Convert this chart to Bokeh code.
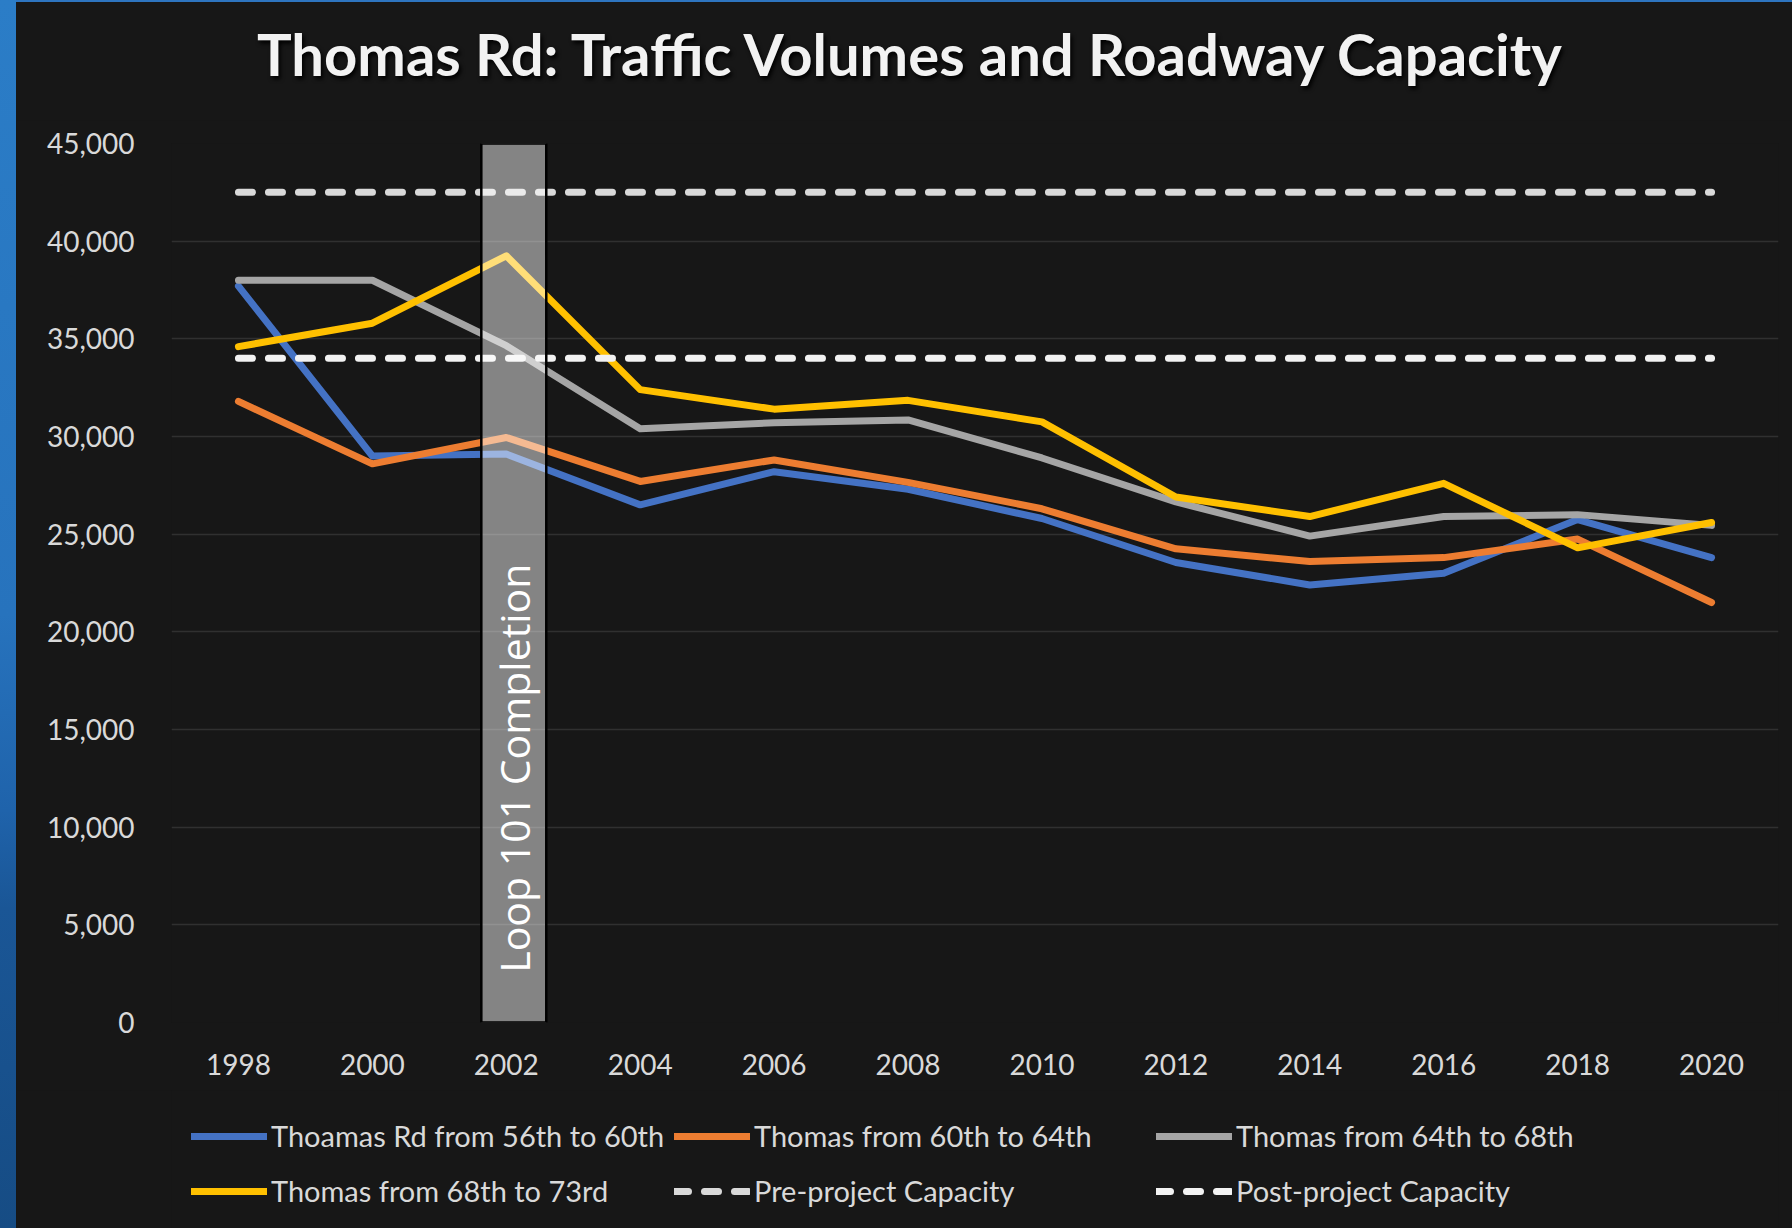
import numpy as np
from bokeh.plotting import figure
from bokeh.models import (ColumnDataSource, Legend, LegendItem, Range1d, FactorRange,
                          NumeralTickFormatter, FixedTicker, Div)
from bokeh.layouts import row, column
from bokeh.transform import dodge
from bokeh.core.properties import value
from bokeh.embed import file_html
from bokeh.resources import INLINE

# ---------------- data ----------------
years = ["1998", "2000", "2002", "2004", "2006", "2008",
         "2010", "2012", "2014", "2016", "2018", "2020"]
thomas_56_60 = [37700, 29000, 29100, 26500, 28200, 27300, 25800, 23550, 22400, 23000, 25750, 23800]
thomas_60_64 = [31800, 28600, 29950, 27700, 28800, 27650, 26300, 24250, 23600, 23800, 24750, 21500]
thomas_64_68 = [38000, 38000, 34650, 30400, 30700, 30850, 28900, 26650, 24900, 25900, 26000, 25450]
thomas_68_73 = [34600, 35800, 39250, 32400, 31400, 31850, 30750, 26900, 25900, 27600, 24300, 25600]
pre_capacity = [42500, 42500, 42500, 42500, 42500, 42500, 42500, 42500, 42500, 42500, 42500, 42500]
post_capacity = [34000, 34000, 34000, 34000, 34000, 34000, 34000, 34000, 34000, 34000, 34000, 34000]
loop_year = ["2002"]
loop_top = [45000]
loop_label = ["Loop 101 Completion"]
loop_label_y = [2550]
y_ticks = [0, 5000, 10000, 15000, 20000, 25000, 30000, 35000, 40000, 45000]

title_text = "Thomas Rd: Traffic Volumes and Roadway Capacity"
names = ["Thoamas Rd from 56th to 60th", "Thomas from 60th to 64th",
         "Thomas from 64th to 68th", "Thomas from 68th to 73rd",
         "Pre-project Capacity", "Post-project Capacity"]

BG = "#171717"
TXT = "#d9d9d9"
colors = ["#4472C4", "#ED7D31", "#A5A5A5", "#FFC000"]
series = [thomas_56_60, thomas_60_64, thomas_64_68, thomas_68_73]
LINE_W = 7
BGSTYLE = {"background-color": BG}

strip = Div(width=16, height=1228, margin=0,
            styles={"background": "linear-gradient(to bottom, #2b7dc7 0%, #2773bd 50%, "
                                  "#1f63ab 66%, #1a5696 74%, #164c84 100%)"})

title_div = Div(
    width=1776, height=120, margin=0, styles=BGSTYLE,
    text=('<div style="box-sizing:border-box;width:1776px;height:120px;'
          'border-top:2px solid #2e75c0;padding:17px 0 0 241px;'
          'font-family:Lato;font-weight:bold;font-size:58px;line-height:70px;'
          'color:#f2f2f2;white-space:nowrap;text-shadow:2px 3px 4px #000;">'
          + title_text + '</div>'))

# ---------------- main chart ----------------
p = figure(width=1776, height=970, x_range=FactorRange(factors=years),
           y_range=Range1d(0, 45000), output_backend="svg", toolbar_location=None,
           background_fill_color=BG, border_fill_color=BG, outline_line_color=None,
           min_border_left=155, min_border_right=14, min_border_top=23, min_border_bottom=68,
           margin=0, styles=BGSTYLE)

p.axis.axis_line_color = None
p.axis.major_tick_line_color = None
p.axis.minor_tick_line_color = None
p.axis.major_tick_out = 0
p.axis.major_tick_in = 0
p.axis.minor_tick_out = 0
p.axis.major_label_text_font = "Lato"
p.axis.major_label_text_font_size = "28px"
p.axis.major_label_text_color = TXT

p.xaxis.major_label_standoff = 31
p.yaxis.major_label_standoff = 37
p.yaxis.ticker = FixedTicker(ticks=y_ticks)
p.yaxis.formatter = NumeralTickFormatter(format="0,0")
p.xgrid.grid_line_color = None
p.ygrid.ticker = FixedTicker(ticks=y_ticks)
p.ygrid.grid_line_color = "#303030"
p.ygrid.grid_line_width = 1.5

for ys, c in zip(series, colors):
    p.line(x=years, y=ys, line_color=c, line_width=LINE_W, line_cap="round", line_join="round")
p.line(x=years, y=pre_capacity, line_color="#d9d9d9", line_width=7,
       line_dash="14 16", line_cap="round")
p.line(x=years, y=post_capacity, line_color="#f2f2f2", line_width=7,
       line_dash="14 16", line_cap="round")

loop_src = ColumnDataSource(dict(year=loop_year, top=loop_top, label=loop_label, ly=loop_label_y))
p.vbar(x=dodge("year", 0.056, range=p.x_range), top="top", bottom=0, width=0.485,
       fill_color="white", fill_alpha=0.47, line_color="black", line_width=2.5, source=loop_src)
p.text(x=dodge("year", 0.056, range=p.x_range), y="ly", text="label", angle=np.pi / 2,
       text_align="left", text_baseline="middle", text_font=value("Open Sans"),
       text_font_size="41px", text_color="white", source=loop_src)

# ---------------- legend strip (same series, drawn out of its visible range) ----------------
lg = figure(width=1776, height=138, x_range=FactorRange(factors=years),
            y_range=Range1d(100000, 100001), x_axis_type=None, y_axis_type=None,
            output_backend="svg", toolbar_location=None,
            background_fill_color=BG, border_fill_color=BG, outline_line_color=None,
            min_border_left=155, min_border_right=14, min_border_top=0, min_border_bottom=0,
            margin=0, styles=BGSTYLE)
lr = []
for ys, c in zip(series, colors):
    lr.append(lg.line(x=years, y=ys, line_color=c, line_width=LINE_W, line_cap="round"))
lr_pre = lg.line(x=years, y=pre_capacity, line_color="#d9d9d9", line_width=7,
                 line_dash="14 16", line_cap="round")
lr_post = lg.line(x=years, y=post_capacity, line_color="#f2f2f2", line_width=7,
                  line_dash="14 16", line_cap="round")

cols = [
    [(names[0], lr[0]), (names[3], lr[3])],
    [(names[1], lr[1]), (names[4], lr_pre)],
    [(names[2], lr[2]), (names[5], lr_post)],
]
xs = [20, 503, 985]
for items, x0 in zip(cols, xs):
    leg = Legend(items=[LegendItem(label=n, renderers=[r]) for n, r in items],
                 location=(x0, 20), orientation="vertical",
                 padding=0, margin=0, spacing=20, glyph_width=76, glyph_height=20,
                 label_standoff=4, label_text_font="Lato", label_text_font_size="29px",
                 label_text_color=TXT, border_line_color=None, background_fill_alpha=0)
    lg.add_layout(leg, "center")

layout = row(strip, column(title_div, p, lg, spacing=0, styles=BGSTYLE),
             spacing=0, styles=BGSTYLE)
open("out.html", "w").write(file_html(layout, INLINE))
